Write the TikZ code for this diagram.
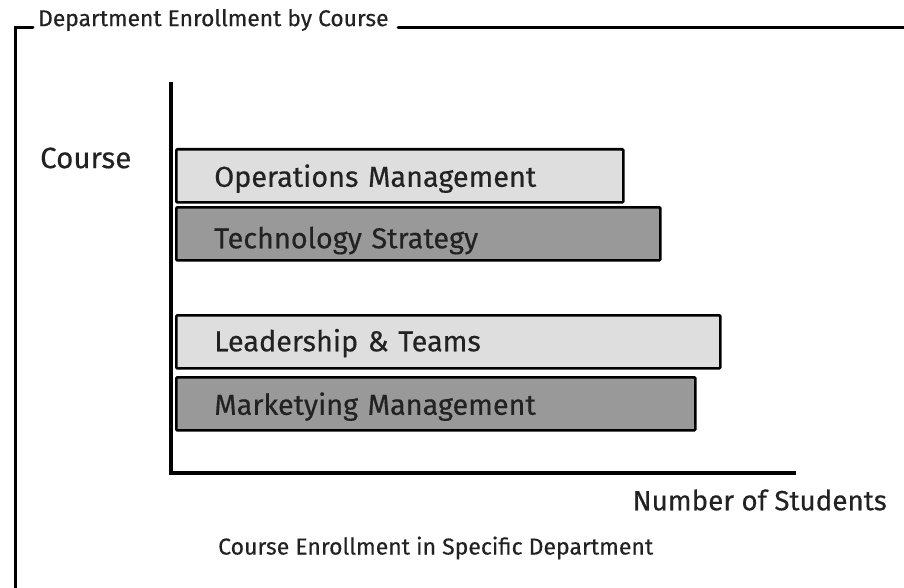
\documentclass[tikz,border=0pt]{standalone}
\usepackage{fontspec}
\setmainfont{Fira Sans}[FakeBold=0.4]
\definecolor{barlight}{HTML}{DEDEDE}
\definecolor{bardark}{HTML}{999999}
\definecolor{inktext}{HTML}{222222}
\begin{document}
\begin{tikzpicture}[x=1pt,y=-1pt,
  frameline/.style={line width=3pt, line cap=round},
  axisline/.style={line width=4.5pt},
  barbox/.style={draw=black, line width=2.6pt, rounded corners=1pt, anchor=north west,
    minimum height=53pt, inner xsep=38pt, align=left, text=inktext,
    text height=22pt, text depth=0pt,
    font=\fontsize{28.8}{30}\selectfont},
  lbl/.style={text=inktext, inner sep=0pt}]
\useasboundingbox (0,0) rectangle (904,588);
% frame
\coordinate (ftl) at (15,28);
\coordinate (fbl) at (15,590);
\coordinate (fa) at (33,28);
\coordinate (fb) at (398,28);
\coordinate (fr) at (904,28);
\draw[frameline] (fa) -- (ftl) -- (fbl);
\draw[frameline] (fb) -- (fr);
\node[lbl, anchor=west, font=\fontsize{22.8}{24}\selectfont] (title) at (38,20) {Department Enrollment by Course};
% axes
\coordinate (ytop) at (171,82);
\coordinate (origin) at (171,473);
\coordinate (xend) at (796,473);
\draw[axisline] (ytop) -- (origin) -- (xend);
% bars
\node[barbox, fill=barlight, minimum width=447pt, text width=371pt] (b1) at (175,148) {Operations Management};
\node[barbox, fill=bardark, minimum width=484pt, text width=408pt, text height=29pt] (b2) at (175,206) {Technology Strategy};
\node[barbox, fill=barlight, minimum width=544pt, text width=468pt, text height=19pt] (b3) at (175,314) {Leadership \& Teams};
\node[barbox, fill=bardark, minimum width=519pt, text width=443pt] (b4) at (175,376) {Marketying Management};
% labels
\node[lbl, anchor=west, font=\fontsize{29.5}{31}\selectfont] (ylab) at (40,158) {Course};
\node[lbl, anchor=east, font=\fontsize{27.8}{29}\selectfont] (xlab) at (887,500) {Number of Students};
\node[lbl, anchor=west, font=\fontsize{23}{25}\selectfont] (cap) at (218,548) {Course Enrollment in Specific Department};
\end{tikzpicture}
\end{document}
